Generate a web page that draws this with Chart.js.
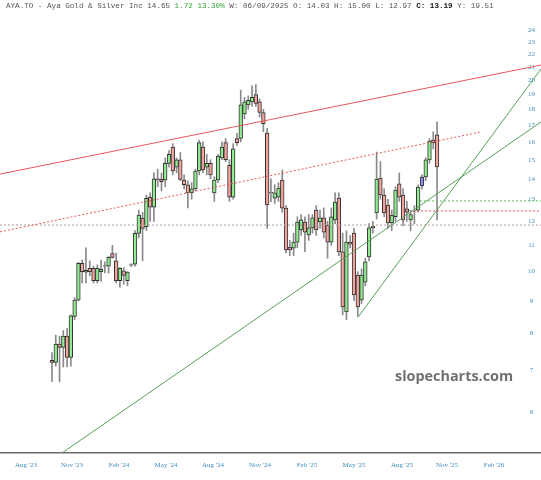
<!DOCTYPE html>
<html lang="en">
<head>
<meta charset="UTF-8">
<title>AYA.TO weekly</title>
<script src="https://cdn.jsdelivr.net/npm/chart.js@4.4.1/dist/chart.umd.min.js"></script>
<style>
  html, body { margin: 0; padding: 0; background: #fff; }
  #wrap { position: relative; width: 541px; height: 480px; }
  #hdr { position: absolute; left: 6px; top: 1px; font: 7.6px "Liberation Mono", monospace; color: #555; white-space: pre; line-height: 10px; }
  #hdr .up { color: #3aa03a; }
  #hdr b { color: #111; }
  #mark { position: absolute; left: 395px; top: 366px; font: bold 14.4px "Open Sans", sans-serif; color: #707070; }
</style>
</head>
<body>
<div id="wrap">
  <canvas id="grafico" width="541" height="480"></canvas>
  <div id="hdr">AYA.TO - Aya Gold &amp; Silver Inc 14.65 <span class="up">1.72 13.30%</span> W: 06/09/2025 O: 14.03 H: 15.00 L: 12.97 <b>C: 13.19</b> Y: 19.51</div>
  <div id="mark">slopecharts.com</div>
</div>

<script>
// weekly candles, one per week
const opens  = [7.25,7.20,7.69,7.60,7.92,7.33,8.50,9.02,10.31,9.98,10.12,10.12,9.68,10.00,10.20,10.20,10.68,10.40,9.68,10.03,9.68,10.24,
  10.27,11.49,12.14,11.77,13.10,12.63,14.00,13.97,13.94,14.80,15.70,14.60,15.00,13.94,13.70,13.30,13.50,14.40,15.70,14.60,14.80,13.30,
  13.94,15.10,15.96,14.70,13.10,16.20,16.20,17.70,18.30,18.50,19.00,18.50,17.80,16.52,13.30,13.05,13.10,13.94,12.59,10.93,10.89,11.13,
  11.63,11.97,11.42,11.72,12.50,11.97,12.15,11.84,11.13,12.06,13.05,10.74,8.64,11.13,11.50,9.88,9.02,9.63,10.55,11.72,12.37,14.04,
  13.20,12.73,11.93,12.20,13.74,13.20,12.55,12.06,12.45,12.50,13.64,14.09,14.99,16.10,16.41];
const highs  = [7.46,7.95,7.92,8.08,8.14,8.55,9.10,10.35,10.43,10.90,10.40,10.20,10.25,10.43,10.36,10.56,11.00,10.70,10.15,10.15,10.00,10.30,
  11.60,12.50,12.40,13.20,13.30,14.30,14.50,14.30,15.10,15.50,15.90,15.10,15.40,14.20,13.90,13.80,14.50,16.10,16.00,15.30,15.00,14.10,
  15.30,16.00,16.20,15.00,15.90,16.50,19.30,18.80,18.90,19.60,19.70,18.70,18.00,16.80,14.00,13.70,13.80,14.45,12.70,11.20,11.50,12.20,
  12.30,12.20,12.30,12.30,12.70,12.50,12.60,12.00,12.60,13.30,13.30,11.50,11.60,11.40,11.70,10.00,10.10,10.50,11.90,12.00,15.42,14.90,
  13.50,13.00,12.50,13.60,14.30,13.50,12.90,12.50,12.70,13.70,14.20,15.10,16.20,16.60,17.20];
const lows   = [6.71,7.10,6.71,7.08,7.08,7.10,8.40,9.00,9.60,9.60,9.85,9.60,9.60,9.65,9.95,9.95,10.50,9.60,9.45,9.55,9.50,10.18,
  10.20,11.30,10.40,11.60,12.00,12.00,13.60,13.40,13.60,14.60,14.20,14.30,13.90,13.50,12.60,13.00,13.40,14.20,14.30,14.20,14.00,12.90,
  13.80,15.00,14.90,12.90,13.00,15.80,16.00,17.40,18.00,18.20,18.20,17.50,16.60,11.70,12.88,12.80,12.90,12.40,10.70,10.60,10.60,10.90,
  11.40,10.75,11.20,11.50,11.40,11.70,11.30,10.50,11.00,11.90,10.60,8.55,8.40,10.90,9.00,8.50,8.90,9.50,10.40,11.50,12.10,13.00,
  12.20,11.70,11.60,12.00,12.90,11.80,12.00,11.60,11.90,12.40,13.50,13.90,14.80,15.60,12.06];
const closes = [7.20,7.69,7.60,7.92,7.33,8.52,9.02,10.31,10.00,10.05,10.00,9.68,10.12,10.08,10.22,10.53,10.53,9.68,10.12,9.86,9.98,10.26,
  11.49,12.28,11.70,13.04,12.63,14.00,13.95,13.85,14.80,15.30,14.40,15.00,13.97,13.70,13.30,13.50,14.40,15.96,14.45,14.80,14.20,13.94,
  15.20,15.70,15.00,13.10,15.60,15.96,18.30,18.50,18.60,18.80,18.40,17.80,17.10,12.73,13.34,13.30,13.54,12.59,10.82,10.82,11.13,11.97,
  12.06,11.54,11.72,12.15,11.63,12.15,11.54,11.13,12.20,12.87,10.74,8.80,11.13,11.05,9.19,8.80,9.88,10.36,11.72,11.80,13.99,13.20,
  12.37,11.93,12.28,13.44,13.10,12.06,12.41,12.30,12.48,13.59,14.09,14.99,16.05,15.94,14.61];
const blueCandle = 98;

// axes
const yTicks = [6,7,8,9,10,11,12,13,14,15,16,17,18,19,20,21,22,23,24];
const xTickPos = [-6.89, 5.30, 17.75, 30.20, 42.65, 55.10, 67.55, 80.0, 92.72, 104.64, 117.09];
const xTickLabels = ["Aug '23","Nov '23","Feb '24","May '24","Aug '24","Nov '24","Feb '25","May '25","Aug '25","Nov '25","Feb '26"];
const xMin = -13.77, xMax = 129.54;
const yMin = 5.184, yMax = 24.885;

// drawn lines: [week, price] end points
const redTrend    = [[-13.77, 14.24], [129.54, 21.14]];
const redDotTrend = [[-13.77, 11.55], [113.38, 16.58]];
const greyLevel   = [[-13.77, 11.84], [129.54, 11.84]];
const redLevel    = [[95.63, 12.46], [129.54, 12.46]];
const greenLevel  = [[97.48, 12.92], [129.54, 12.92]];
const greenLong   = [[2.65, 5.184], [129.54, 17.2]];
const greenSteep  = [[81.06, 8.48], [129.54, 20.84]];

const corFundo = i => i === blueCandle ? '#8c8cf5' : (closes[i] >= opens[i] ? '#90ea90' : '#f2a39e');

function linha(pts, cor, tracejado) {
  return {
    type: 'line',
    data: pts.map(p => ({ x: p[0], y: p[1] })),
    borderColor: cor,
    borderWidth: 1,
    borderDash: tracejado ? [2, 2] : [],
    pointRadius: 0,
    fill: false,
    order: 0
  };
}

const ctx = document.getElementById('grafico').getContext('2d');
new Chart(ctx, {
  type: 'bar',
  data: {
    datasets: [
      linha(redTrend, '#e8575a', false),
      linha(redDotTrend, '#e8575a', true),
      linha(greyLevel, '#b49a9a', true),
      linha(redLevel, '#e8575a', true),
      linha(greenLevel, '#5cb85c', true),
      linha(greenLong, '#5a9e5a', false),
      linha(greenSteep, '#5a9e5a', false),
      {
        type: 'bar',
        data: opens.map((o, i) => ({ x: i, y: [o, closes[i]] })),
        backgroundColor: opens.map((o, i) => corFundo(i)),
        borderColor: '#333',
        borderWidth: 1,
        borderSkipped: false,
        barThickness: 3.7,
        grouped: false,
        order: 1
      },
      {
        type: 'bar',
        data: lows.map((l, i) => ({ x: i, y: [l, highs[i]] })),
        backgroundColor: '#8a8a8a',
        borderWidth: 0,
        barThickness: 1,
        grouped: false,
        order: 2
      }
    ]
  },
  options: {
    responsive: false,
    animation: false,
    layout: { padding: { top: 20, left: 0, right: 0, bottom: 0 } },
    plugins: {
      legend: { display: false },
      tooltip: { enabled: false }
    },
    scales: {
      x: {
        type: 'linear',
        min: xMin,
        max: xMax,
        offset: false,
        grid: { display: false, drawTicks: false },
        border: { display: true, color: '#6a6a6a', width: 1.5 },
        ticks: {
          autoSkip: false,
          maxRotation: 0,
          padding: 8,
          color: '#3d8bb8',
          font: { family: 'Liberation Serif', size: 7 },
          callback: (v, i) => xTickLabels[i]
        },
        afterBuildTicks: s => { s.ticks = xTickPos.map(v => ({ value: v })); },
        afterFit: s => { s.height = 27; }
      },
      y: {
        type: 'logarithmic',
        position: 'right',
        min: yMin,
        max: yMax,
        grid: { display: false, drawTicks: false },
        border: { display: false },
        ticks: {
          mirror: true,
          crossAlign: 'center',
          autoSkip: false,
          padding: -6,
          color: '#3d8bb8',
          font: { family: 'Liberation Serif', size: 7 },
          callback: v => String(v)
        },
        afterBuildTicks: s => { s.ticks = yTicks.map(v => ({ value: v })); },
        afterFit: s => { s.width = 0; }
      }
    }
  }
});
</script>
</body>
</html>
